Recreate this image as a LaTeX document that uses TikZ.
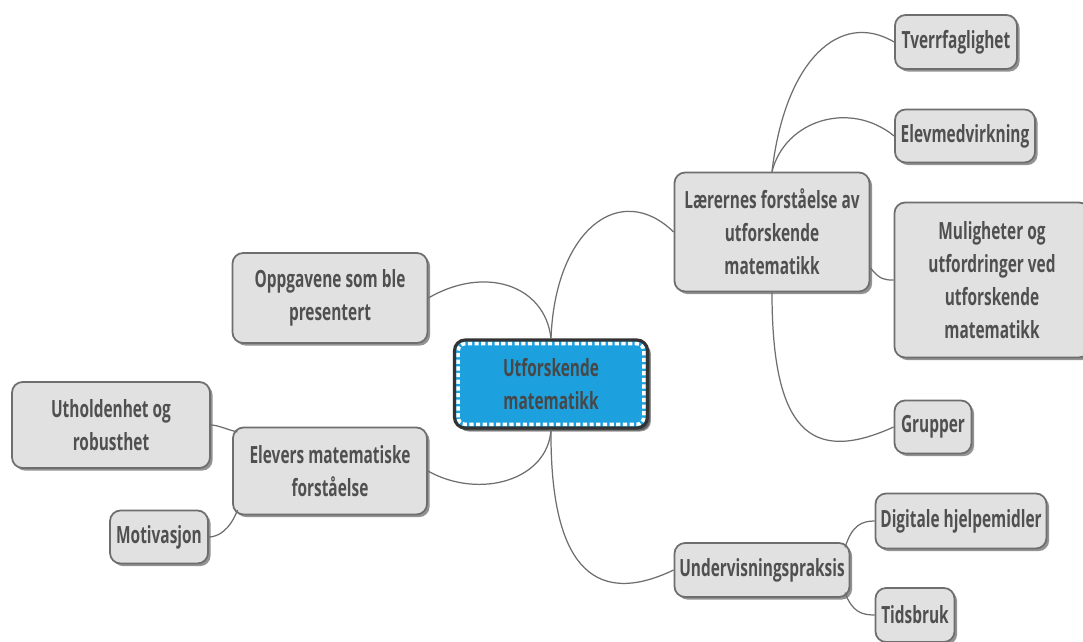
\documentclass[tikz,border=0pt]{standalone}
\usepackage{fontspec}
\setmainfont{Open Sans}[FakeStretch=0.65]
\usetikzlibrary{shadows}
\definecolor{boxgray}{HTML}{E1E1E1}
\definecolor{edgegray}{HTML}{6E6E6E}
\definecolor{txtgray}{HTML}{505050}
\definecolor{centerblue}{HTML}{1DA1DE}
\tikzset{basic/.style={draw=edgegray,line width=1pt,fill=boxgray,
                       rounded corners=6pt,text=txtgray,align=center,inner sep=0pt,
                       font=\bfseries\fontsize{13.5}{18.8}\selectfont,
                       drop shadow={shadow xshift=1.5pt,shadow yshift=-1.5pt,
                                    fill=black!60,opacity=.7}}}
\tikzset{topic/.style={basic}}
\tikzset{root/.style={basic,draw=black!80,line width=1.8pt,fill=centerblue,text=black!72,
                      drop shadow={shadow xshift=2pt,shadow yshift=-2pt,fill=black!80}}}
\tikzset{link/.style={draw=edgegray,line width=0.7pt}}

\begin{document}
\begin{tikzpicture}[x=0.02cm,y=-0.02cm]

    \fill[white] (0,0) rectangle (1083,642);
    \useasboundingbox (0,0) rectangle (1083,642);

    % main topic
    \node[root,minimum width=3.86cm,minimum height=1.76cm] (u) at (551,384)
        {Utforskende\\matematikk};
    \draw[white,line width=2pt,dash pattern=on 2.4pt off 1.4pt,rounded corners=4pt]
        ([shift={(3pt,3pt)}]u.south west) rectangle ([shift={(-3pt,-3pt)}]u.north east);

    % right side
    \node[topic,minimum width=3.9cm,minimum height=2.38cm] (lar) at (772,232)
        {Lærernes forståelse av\\utforskende\\matematikk};
    \node[topic,minimum width=2.44cm,minimum height=1.08cm] (tve) at (956,42)
        {Tverrfaglighet};
    \node[topic,minimum width=2.8cm,minimum height=1.06cm] (elm) at (965,136)
        {Elevmedvirkning};
    \node[topic,minimum width=3.9cm,minimum height=3.1cm] (mul) at (992,280)
        {Muligheter og\\utfordringer ved\\utforskende\\matematikk};
    \node[topic,minimum width=1.54cm,minimum height=1.06cm] (grp) at (933,427)
        {Grupper};

    \node[topic,minimum width=3.5cm,minimum height=1.08cm] (und) at (762,570)
        {Undervisningspraksis};
    \node[topic,minimum width=3.42cm,minimum height=1.1cm] (dig) at (961,521)
        {Digitale hjelpemidler};
    \node[topic,minimum width=1.58cm,minimum height=1.08cm] (tid) at (915,615)
        {Tidsbruk};

    % left side
    \node[topic,minimum width=3.9cm,minimum height=1.8cm] (opp) at (330,298)
        {Oppgavene som ble\\presentert};
    \node[topic,minimum width=3.88cm,minimum height=1.74cm] (elv) at (330,471)
        {Elevers matematiske\\forståelse};
    \node[topic,minimum width=3.96cm,minimum height=1.72cm] (uth) at (111,425)
        {Utholdenhet og\\robusthet};
    \node[topic,minimum width=1.96cm,minimum height=1.06cm] (mot) at (159,537)
        {Motivasjon};

    \draw[link] (opp.east) .. controls (485,265) and (545,285) .. (u.north);
    \draw[link] (u.north) .. controls (555,230) and (620,180) .. (lar.west);
    \draw[link] (elv.east) .. controls (480,500) and (548,480) .. (u.south);
    \draw[link] (u.south) .. controls (550,560) and (590,610) .. (und.west);

    \draw[link] (lar.north) .. controls (785,60) and (840,10) .. (tve.west);
    \draw[link] (lar.north) .. controls (785,120) and (850,100) .. (elm.west);
    \draw[link] (lar.-20) .. controls (880,280) and (885,280) .. (mul.west);
    \draw[link] (lar.south) .. controls (772,430) and (810,465) .. (grp.west);

    \draw[link] ([shift={(-3pt,-3pt)}]und.north east) .. controls (852,525) and (862,521) .. (dig.west);
    \draw[link] ([shift={(-3pt,3pt)}]und.south east) .. controls (852,612) and (862,615) .. (tid.west);

    \draw[link] ([shift={(3pt,-3pt)}]elv.north west) .. controls (228,430) and (218,425) .. (uth.east);
    \draw[link] ([shift={(3pt,3pt)}]elv.south west) .. controls (230,530) and (218,537) .. (mot.east);

\end{tikzpicture}
\end{document}
